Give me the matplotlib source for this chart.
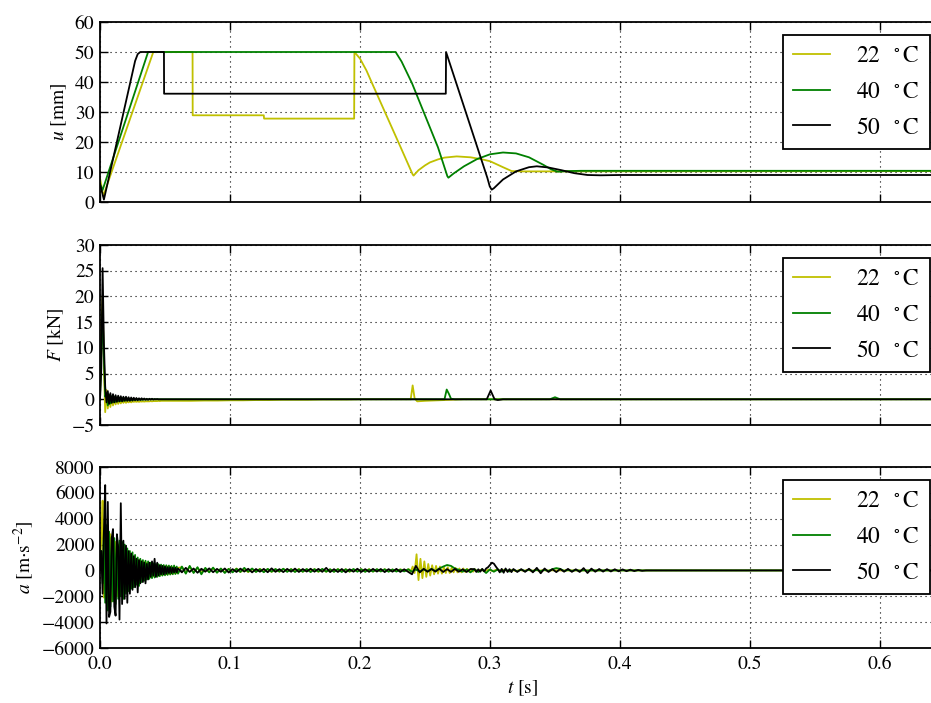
import numpy as np
import matplotlib
matplotlib.use("Agg")
import matplotlib.pyplot as plt

# ---------------- data ----------------
labels = ["22 $\\ ^\\circ$C", "40 $\\ ^\\circ$C", "50 $\\ ^\\circ$C"]
colors = ["#c0c000", "#008000", "#000000"]

# displacement u [mm]
u22_t = [0.0, 0.0025, 0.041, 0.0712, 0.0713, 0.126, 0.1262, 0.1955, 0.1957, 0.200, 0.205, 0.2103,
         0.2308, 0.2405, 0.2412, 0.245, 0.250, 0.2538, 0.260, 0.265, 0.2744, 0.285, 0.293, 0.300,
         0.310, 0.3167, 0.325, 0.65]
u22 = [8.0, 2.0, 50.0, 50.0, 28.9, 28.9, 27.8, 27.8, 50.0, 47.8, 43.8, 38.6,
       18.7, 9.2, 8.8, 10.6, 12.2, 13.2, 14.2, 14.8, 15.2, 14.9, 14.3, 13.6,
       11.6, 10.3, 10.2, 10.3]

u40_t = [0.0, 0.002, 0.037, 0.2274, 0.232, 0.240, 0.260, 0.2672, 0.268, 0.272, 0.280, 0.290,
         0.300, 0.310, 0.320, 0.330, 0.341, 0.347, 0.352, 0.360, 0.370, 0.65]
u40 = [6.0, 4.0, 50.0, 50.0, 46.8, 39.6, 18.2, 8.6, 8.1, 9.5, 11.9, 14.3,
       15.9, 16.5, 16.2, 14.9, 12.4, 10.9, 10.1, 10.3, 10.4, 10.4]

u50_t = [0.0, 0.003, 0.027, 0.029, 0.031, 0.0492, 0.0493, 0.2660, 0.2662, 0.2980, 0.2998,
         0.3013, 0.303, 0.310, 0.320, 0.330, 0.336, 0.345, 0.355, 0.365, 0.375, 0.385, 0.400, 0.65]
u50 = [6.0, 0.8, 47.0, 49.3, 50.0, 50.0, 36.1, 36.1, 50.0, 8.0, 5.2,
       4.1, 4.6, 7.5, 10.2, 11.6, 11.9, 11.5, 10.6, 9.6, 9.0, 8.9, 9.0, 9.0]

# force F [kN]: early part sampled every 1 ms from t = 0
F_dt = 0.001
F22_early = [0, 14, 20, 6, -2.5, 1.8, -1.8, 0.8, -1.5, 0.3,
             -1.2, 0.1, -1.0, -0.1, -0.9, -0.2, -0.8, -0.3, -0.7, -0.3,
             -0.7, -0.4, -0.6, -0.4, -0.6, -0.4, -0.5, -0.4, -0.5, -0.4,
             -0.5, -0.4, -0.45, -0.4, -0.45, -0.4, -0.4, -0.4, -0.4, -0.35,
             -0.4, -0.35, -0.35, -0.35, -0.35, -0.3, -0.35, -0.3, -0.3, -0.3,
             -0.3]
F40_early = [0, 9, 17, 8, 0.5, 1.2, -1.2, 0.9, -0.8, 0.6,
             -0.6, 0.5, -0.5, 0.4, -0.4, 0.3, -0.35, 0.25, -0.3, 0.2,
             -0.25, 0.15, -0.2, 0.1, -0.2, 0.1, -0.15, 0.05, -0.1, 0.05,
             -0.1, 0, -0.1, 0, -0.05, 0, -0.05, 0, 0, 0,
             0, 0, 0, 0, 0, 0, 0, 0, 0, 0, 0]
F50_early = [0, 6, 25.5, 11, 2.5, -0.6, 1.6, -0.9, 1.2, -0.7,
             1.0, -0.6, 0.8, -0.5, 0.7, -0.4, 0.6, -0.4, 0.5, -0.3,
             0.5, -0.3, 0.4, -0.3, 0.35, -0.25, 0.3, -0.2, 0.25, -0.2,
             0.2, -0.15, 0.2, -0.1, 0.15, -0.1, 0.1, -0.1, 0.1, -0.05,
             0.1, -0.05, 0.05, 0, 0.05, 0, 0, 0, 0, 0, 0]
# yellow slow drift, every 10 ms from 0.06 s
F22_mid = [-0.3, -0.3, -0.25, -0.25, -0.2, -0.2, -0.15, -0.15, -0.1, -0.1,
           -0.1, -0.05, -0.05, -0.05, 0, 0, 0, 0]
# impact events
F22_late_t = [0.2390, 0.2405, 0.2420, 0.2440, 0.2500, 0.2600, 0.2700, 0.2800, 0.65]
F22_late = [0, 2.7, 0.2, -0.4, -0.3, -0.2, -0.1, 0, 0]
F40_late_t = [0.2600, 0.2650, 0.2667, 0.2685, 0.2700, 0.2730, 0.3460, 0.3500, 0.3540, 0.65]
F40_late = [0, 0, 1.9, 1.0, 0.1, 0, 0, 0.4, 0, 0]
F50_late_t = [0.2900, 0.2975, 0.3005, 0.3035, 0.3060, 0.3100, 0.65]
F50_late = [0, 0, 1.7, 0, -0.15, 0, 0]

# acceleration a [m/s^2]
a_dt_early = 0.001   # from t = 0
a_dt = 0.003
a_dt_fine = 0.0015
a22_early = [0, 2500, 5400, -2100, 4200, -2500, 3500, -2800, 2800, -2400,
             2500, -2200, 2200, -2000, 2000, -1800, 1800, -1600, 1600, -1500,
             1400, -1300, 1300, -1200, 1100, -1000, 1000, -900, 900, -800,
             800, -700, 700, -650, 650, -600, 600, -550, 550, -500,
             500, -450, 450, -400, 400, -380, 380, -350, 350, -320,
             320, -300, 300, -280, 280, -250, 250, -230, 230, -200,
             200]
a40_early = [0, 1500, -1000, 3000, -2500, 3500, -3100, 3000, -2800, 2600,
             -2400, 2500, -2600, 2400, -2200, 2300, -2000, 2200, -2200, 2000,
             -1800, 1700, -1600, 1500, -1400, 1400, -1300, 1200, -1100, 1000,
             -1200, 900, -900, 800, -800, 750, -700, 700, -650, 600,
             -600, 550, -550, 500, -500, 480, -450, 450, -400, 420,
             -380, 400, -350, 380, -320, 350, -300, 380, -280, 300,
             -250]
a50_early = [0, 1500, -1800, 3000, 6600, -4100, 5300, -3600, -3200, 2500,
             3200, -2800, -3500, 2800, 1800, -3800, 5200, -2600, 2300, -2200,
             1900, -2500, 1500, -1800, 1300, -1500, 1100, -1300, 900, -1700,
             800, -1000, 700, -900, 600, -1000, 500, -700, 600, -500,
             700, -400, 900, -500, 600, -400, 400, -300, 350, -300,
             300, -250, 250, -200, 250, -200, 200, -150, 200, -150,
             150]
# from 0.063 s every 3 ms
a22_mid = [250, -200, 300, -150, 200, -180, 150, -120, 180, -150,
           130, -140, 120, -100, 150, -120, 100, -130, 110, -100,
           120, -90, 100, -110, 90, -100, 120, -80, 100, -90,
           110, -100, 90, -80, 100, -110, 90, -100, 80, -90,
           100, -80, 90, -100, 80, -70, 90, -80, 100, -90,
           80, -70, 90, -80, 70, -60, 80, 0]
a40_mid = [300, -250, 350, -200, 250, -300, 200, -150, 220, -180,
           150, -200, 120, -150, 130, -120, 200, -100, 150, -120,
           100, -140, 120, -100, 110, -90, 130, -110, 100, -120,
           90, -100, 110, -130, 100, -90, 120, -100, 90, -110,
           100, -120, 90, -80, 110, -100, 90, -110, 80, -90,
           100, -80, 90, -100, 80, -90, 70, -80, 90, -100,
           80, -90, 100, -80, 120, -60, 150, 300, 420, 350,
           150, 50, -100, 80, -150, 100, -120, 90, -200, 80]
a50_mid = [-150, 200, -120, 150, -180, 130, -100, 160, -140, 120,
           -110, 150, -160, 100, -120, 140, -90, 130, -150, 110,
           -100, 120, -140, 160, -110, 100, -130, 120, -100, 140,
           -120, 110, -90, 130, -100, 120, -110, 200, -130, 100,
           -120, 110, -150, 90, -100, 130, -120, 100, -110, 120,
           -90, 110, -130, 100, -100, 120, -120, 90, -100, -300,
           350, -150, 120, -100, 110, -90, 130, -120, 100, -110,
           120, -100, 90, -120, 110]
# yellow impact burst from 0.236 s every 1.5 ms, then tail from 0.293 s every 3 ms
a22_burst = [0, 100, -100, 300, -200, 1250, -750, 900, -600, 700,
             -500, 500, -400, 400, -300, 350, -250, 300, -250, 250,
             -200, 250, -200, 200, -150, 200, -150, 150, -150, 150,
             -120, 120, -100, 120, -100, 80, -60]
a22_tail = [50, -60, 70, -50, 60, -40, 50, -60, 40, -50,
            40, -30, 40, -30, 30, -20, 20, -10, 10, 0]
# green tail from 0.303 s every 3 ms
a40_tail = [-100, 80, -90, 70, -80, 60, -70, 60, -50, 60,
            -50, 40, -50, 40, -40, 100, 180, 120, -40, 30,
            -30, 20, -20, 10, -10, 0]
# black impact from 0.288 s every 1.5 ms, then from 0.321 s every 3 ms
a50_impact = [100, -120, 90, -100, 120, -80, 150, 250, 420, 600,
              520, 300, 100, -150, 120, -180, 150, -120, 100, -130,
              110]
a50_tail = [-120, 100, -110, 130, -150, 200, -220, 150, -120, 100,
            -130, 110, -100, 120, -110, 90, -120, 180, -200, 140,
            -100, 110, -90, 100, -80, 90, -70, 80, -60, 60,
            -50, 40, -30, 0]


def grid_t(t0, dt, vals):
    return t0 + dt * np.arange(len(vals))


def join(parts):
    ts = np.concatenate([p[0] for p in parts])
    vs = np.concatenate([np.asarray(p[1], float) for p in parts])
    return ts, vs


# build series
U = [(u22_t, u22), (u40_t, u40), (u50_t, u50)]

F = [
    join([(grid_t(0, F_dt, F22_early), F22_early),
          (grid_t(0.06, 0.01, F22_mid), F22_mid),
          (np.array(F22_late_t), F22_late)]),
    join([(grid_t(0, F_dt, F40_early), F40_early),
          (np.array(F40_late_t), F40_late)]),
    join([(grid_t(0, F_dt, F50_early), F50_early),
          (np.array(F50_late_t), F50_late)]),
]

A = [
    join([(grid_t(0, a_dt_early, a22_early), a22_early),
          (grid_t(0.063, a_dt, a22_mid), a22_mid),
          (grid_t(0.236, a_dt_fine, a22_burst), a22_burst),
          (grid_t(0.293, a_dt, a22_tail), a22_tail),
          (np.array([0.36, 0.65]), [0, 0])]),
    join([(grid_t(0, a_dt_early, a40_early), a40_early),
          (grid_t(0.063, a_dt, a40_mid), a40_mid),
          (grid_t(0.303, a_dt, a40_tail), a40_tail),
          (np.array([0.39, 0.65]), [0, 0])]),
    join([(grid_t(0, a_dt_early, a50_early), a50_early),
          (grid_t(0.063, a_dt, a50_mid), a50_mid),
          (grid_t(0.288, a_dt_fine, a50_impact), a50_impact),
          (grid_t(0.321, a_dt, a50_tail), a50_tail),
          (np.array([0.43, 0.65]), [0, 0])]),
]

# ---------------- style ----------------
plt.rcParams.update({
    'font.family': 'STIXGeneral',
    'mathtext.fontset': 'stix',
    'font.size': 14,
    'axes.linewidth': 1.3,
    'xtick.direction': 'in', 'ytick.direction': 'in',
    'xtick.top': True, 'ytick.right': True,
    'xtick.major.size': 6, 'ytick.major.size': 6,
    'xtick.major.width': 1.0, 'ytick.major.width': 1.0,
    'xtick.major.pad': 6, 'ytick.major.pad': 4,
})

W, H = 931, 703
fig = plt.figure(figsize=(W / 100, H / 100), dpi=100)
xmax = 0.65
ax_left = 100 / W
ax_width = (xmax * 1300) / W
panels = [(22, 202), (245, 425), (467, 648)]
axes = []
for top, bot in panels:
    ax = fig.add_axes([ax_left, 1 - bot / H, ax_width, (bot - top) / H])
    axes.append(ax)

ylims = [(0, 60), (-5, 30), (-6000, 8000)]
yticks = [np.arange(0, 61, 10), np.arange(-5, 31, 5), np.arange(-6000, 8001, 2000)]
ylabels = ["$u$ [mm]", "$F$ [kN]", "$a$ [m$\\cdot$s$^{-2}$]"]
datasets = [U, F, A]

for i, ax in enumerate(axes):
    for (t, v), c, lab in zip(datasets[i], colors, labels):
        ax.plot(t, v, color=c, lw=1.3, label=lab)
    ax.set_xlim(0, xmax)
    ax.set_ylim(*ylims[i])
    ax.set_yticks(yticks[i])
    ax.set_xticks(np.arange(0, 0.61, 0.1))
    ax.grid(True, color='k', linestyle=(0, (1, 3.5)), linewidth=0.8)
    ax.set_ylabel(ylabels[i])
    if i < 2:
        ax.tick_params(labelbottom=False)
    else:
        ax.set_xticklabels(["0.0", "0.1", "0.2", "0.3", "0.4", "0.5", "0.6"])
        ax.set_xlabel("$t$ [s]")
    leg = ax.legend(loc='upper right',
                    bbox_to_anchor=((930 - 100) / (xmax * 1300), (180 - 13) / 180),
                    borderaxespad=0, fontsize=16.8, frameon=True, fancybox=False,
                    framealpha=1, edgecolor='k', handlelength=1.6, handletextpad=1.1,
                    borderpad=0.45, labelspacing=0.62)
    leg.get_frame().set_linewidth(1.3)

fig.savefig("out.png", dpi=100)
